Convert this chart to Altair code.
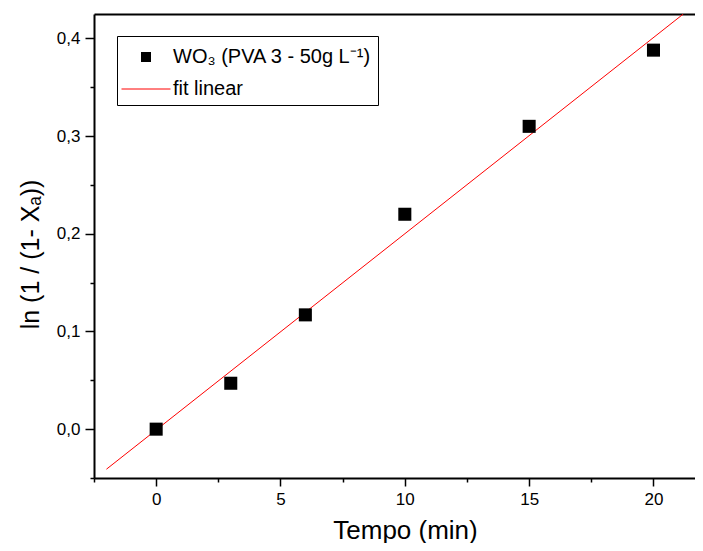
import altair as alt
import pandas as pd

# ---- data ----
tempo = [0, 3, 6, 10, 15, 20]
ln_vals = [0.0, 0.047, 0.117, 0.220, 0.310, 0.388]
fit_tempo = [-2.0, 21.2]
fit_vals = [-0.041, 0.425]
x_major = [0, 5, 10, 15, 20]
x_minor = [-2.5, 2.5, 7.5, 12.5, 17.5]
y_major = [0.0, 0.1, 0.2, 0.3, 0.4]
y_minor = [-0.05, 0.05, 0.15, 0.25, 0.35]
series_pts = "WO\u2083 (PVA 3 - 50g L\u207b\u00b9)"
series_fit = "fit linear"
x_title = "Tempo (min)"
y_title = "ln (1 / (1- X\u2090))"

FONT = "Liberation Sans, Arial, Helvetica, sans-serif"
x_dom = [-2.5, 21.67]
y_dom = [-0.05, 0.425]

pts = pd.DataFrame({"t": tempo, "v": ln_vals, "serie": [series_pts] * len(tempo)})
fit = pd.DataFrame({"t": fit_tempo, "v": fit_vals})

xs = alt.Scale(domain=x_dom, nice=False, zero=False)
ys = alt.Scale(domain=y_dom, nice=False, zero=False)

cond = "datum.value === 'fit linear'"
legend = alt.Legend(
    title="\u00a0",
    titleFontSize=5,
    titlePadding=0,
    orient="none",
    legendX=23,
    legendY=22,
    strokeColor="black",
    fillColor="white",
    padding=6,
    symbolSize=100,
    symbolOffset=13,
    symbolType={"expr": f"{cond} ? 'M-4.9,0H4.9' : 'square'"},
    symbolStrokeColor={"expr": f"{cond} ? '#ff0000' : 'transparent'"},
    symbolStrokeWidth=1,
    symbolOpacity=1,
    labelOffset=17,
    labelFont=FONT,
    labelFontSize=20,
    labelColor="black",
    labelLimit=400,
    rowPadding=12,
)

points = alt.Chart(pts).mark_point(shape="square", filled=True, size=170, opacity=1).encode(
    x=alt.X(
        "t:Q",
        scale=xs,
        axis=alt.Axis(
            orient="bottom",
            values=x_major,
            tickSize=8,
            labelPadding=5,
            labelFontSize=17,
            title=x_title,
            titleFontSize=26,
            titlePadding=10,
            titleX=311,
            labelFlush=False,
        ),
    ),
    y=alt.Y(
        "v:Q",
        scale=ys,
        axis=alt.Axis(
            orient="left",
            values=y_major,
            format=".1f",
            labelExpr="replace(datum.label, '.', ',')",
            tickSize=9,
            labelPadding=5,
            labelFontSize=17,
            title=y_title,
            titleFontSize=25,
            titlePadding=13,
            titleY=240,
            labelFlush=False,
        ),
    ),
    color=alt.Color(
        "serie:N",
        scale=alt.Scale(domain=[series_pts, series_fit], range=["black", "#ff0000"]),
        legend=legend,
    ),
)

line = alt.Chart(fit).mark_line(color="#ff0000", strokeWidth=1, clip=True).encode(
    x=alt.X("t:Q", scale=xs, axis=None),
    y=alt.Y("v:Q", scale=ys, axis=None),
)

minor = alt.Chart(pts).mark_point(opacity=0, size=1).encode(
    x=alt.X(
        "t:Q",
        scale=xs,
        axis=alt.Axis(orient="bottom", values=x_minor, labels=False, domain=False,
                      tickSize=4, title=None),
    ),
    y=alt.Y(
        "v:Q",
        scale=ys,
        axis=alt.Axis(orient="left", values=y_minor, labels=False, domain=False,
                      tickSize=4, title=None),
    ),
)

frame_top = alt.Chart(pts).mark_point(opacity=0, size=1).encode(
    x=alt.X("t:Q", scale=xs,
            axis=alt.Axis(orient="top", ticks=False, labels=False, title=None, domain=True)),
    y=alt.Y("v:Q", scale=ys, axis=None),
)

chart = (
    alt.layer(minor, frame_top, line, points)
    .resolve_axis(x="independent", y="independent")
    .properties(
        width=601,
        height=464,
        autosize=alt.AutoSizeParams(type="none"),
        padding={"left": 86, "top": 6, "right": 0, "bottom": 65},
        background="white",
    )
    .configure_view(stroke=None)
    .configure_axis(
        grid=False,
        domainColor="black",
        domainWidth=2,
        tickColor="black",
        tickWidth=1.5,
        labelColor="black",
        titleColor="black",
        labelFont=FONT,
        titleFont=FONT,
        titleFontWeight="normal",
    )
)

chart.save("out.html", embed_options={"renderer": "svg", "actions": False})
